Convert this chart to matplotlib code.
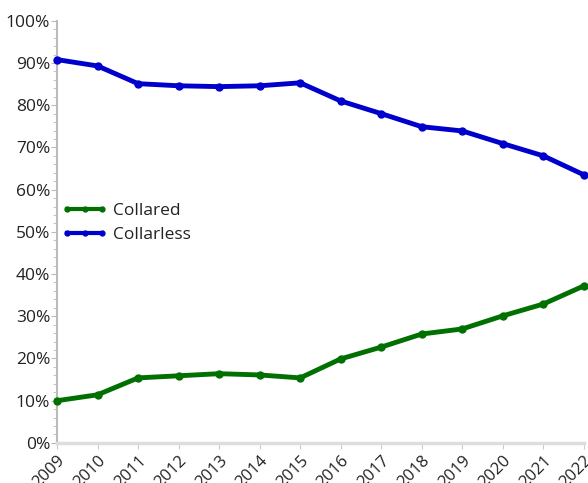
import matplotlib
matplotlib.use("Agg")
import matplotlib.pyplot as plt
from matplotlib.ticker import MultipleLocator, FuncFormatter

years = list(range(2009, 2023))
collared = [10.0, 11.4, 15.4, 15.9, 16.4, 16.1, 15.4, 19.9, 22.7, 25.8, 27.0, 30.1, 32.9, 37.2]
collarless = [90.8, 89.3, 85.1, 84.6, 84.4, 84.6, 85.3, 81.0, 78.0, 74.9, 73.9, 70.9, 68.0, 63.5]

plt.rcParams['font.family'] = ['Open Sans', 'DejaVu Sans']

fig = plt.figure(figsize=(5.88, 4.83), dpi=100)
ax = fig.add_axes([0.097, 0.083, 0.896, 0.874])

ax.plot(years, collared, color='#007000', lw=3.5, marker='o', ms=5, label='Collared', clip_on=False, zorder=3)
ax.plot(years, collarless, color='#0000CC', lw=3.5, marker='o', ms=5, label='Collarless', clip_on=False, zorder=3)

ax.set_xlim(2009, 2022)
ax.set_ylim(0, 100)
ax.set_xticks(years)
ax.set_xticklabels([str(y) for y in years], rotation=45, ha='right', rotation_mode='anchor', fontsize=12)
ax.yaxis.set_major_locator(MultipleLocator(10))
ax.yaxis.set_minor_locator(MultipleLocator(2))
ax.yaxis.set_major_formatter(FuncFormatter(lambda v, p: f"{int(v)}%"))
ax.tick_params(axis='y', labelsize=12.5, length=4, color='#bbbbbb', pad=1, labelcolor='#222222')
ax.tick_params(axis='y', which='minor', length=3, color='#bbbbbb')
ax.tick_params(axis='x', length=4, color='#cccccc', pad=3, labelcolor='#222222')

for s in ['top', 'right']:
    ax.spines[s].set_visible(False)
ax.spines['left'].set_color('#bbbbbb')
ax.spines['left'].set_linewidth(1.5)
ax.spines['bottom'].set_color('#dddddd')
ax.spines['bottom'].set_linewidth(2.5)

leg = ax.legend(loc='upper left', bbox_to_anchor=(0.0, 0.58), frameon=False, fontsize=12.5,
                handlelength=2.6, handletextpad=0.3, labelspacing=0.45, borderaxespad=0.0,
                borderpad=0.3, numpoints=3, markerscale=0.7)
for line in leg.get_lines():
    line.set_linewidth(3)
for t in leg.get_texts():
    t.set_color('#222222')

fig.savefig('out.png', dpi=100)
